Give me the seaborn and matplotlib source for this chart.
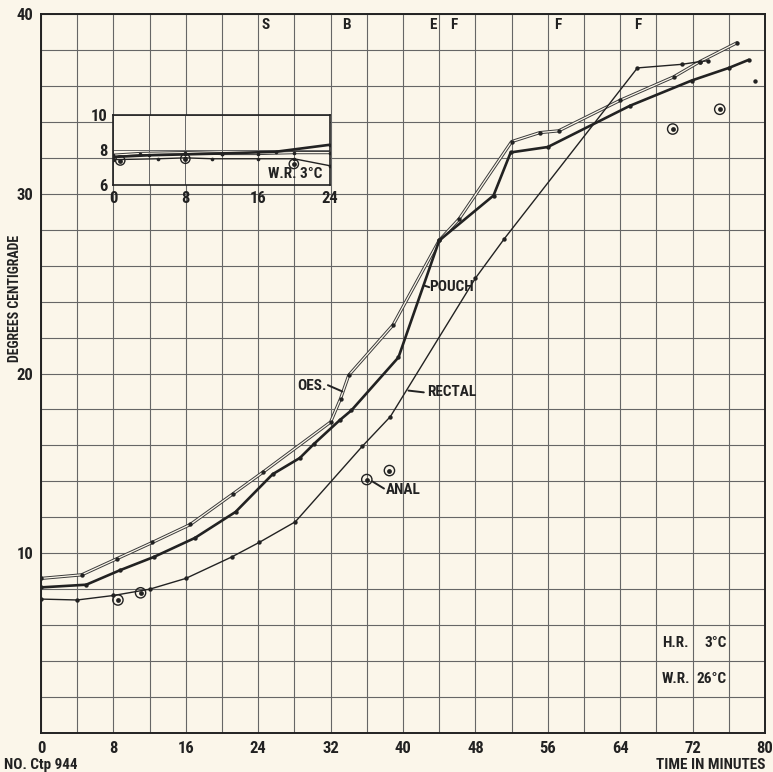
import matplotlib
matplotlib.use("Agg")
import matplotlib.pyplot as plt
import matplotlib.transforms as mtransforms
from matplotlib import font_manager
import seaborn as sns

# ---- data (minutes, degrees C) ----
OES_T = [0, 4.5, 8.4, 12.3, 16.5, 21.2, 24.5, 32.0, 33.1, 34.0, 38.9, 44.0, 46.2, 52.0, 55.1, 57.2, 64.0, 69.9, 72.8, 76.9]
OES_V = [8.6, 8.8, 9.7, 10.6, 11.6, 13.3, 14.5, 17.3, 18.6, 19.9, 22.7, 27.4, 28.6, 32.9, 33.4, 33.5, 35.2, 36.5, 37.35, 38.4]

POUCH_T = [0, 5.0, 8.7, 12.5, 17.0, 21.5, 25.6, 28.6, 30.2, 33.0, 34.3, 39.5, 44.0, 50.0, 51.9, 56.0, 65.1, 71.9, 76.0, 78.2]
POUCH_V = [8.1, 8.25, 9.05, 9.8, 10.85, 12.3, 14.4, 15.3, 16.1, 17.4, 17.95, 20.9, 27.4, 29.9, 32.3, 32.6, 34.9, 36.3, 37.0, 37.45]

RECTAL_T = [0, 4.0, 8.0, 12.0, 16.0, 21.1, 24.1, 28.1, 35.5, 38.6, 48.0, 51.2, 65.9, 70.8, 72.8, 73.7]
RECTAL_V = [7.45, 7.4, 7.65, 8.0, 8.6, 9.8, 10.6, 11.75, 15.95, 17.6, 25.3, 27.5, 37.0, 37.2, 37.35, 37.4]

ANAL_T = [8.5, 11.0, 36.0, 38.5, 69.8, 75.0]
ANAL_V = [7.4, 7.8, 14.1, 14.6, 33.6, 34.7]

EXTRA_T = [78.9]
EXTRA_V = [36.3]

EVENT_T = [24.8, 33.8, 43.3, 45.6, 57.1, 65.9]
EVENT_L = ["S", "B", "E", "F", "F", "F"]

X_TICKS = [0, 8, 16, 24, 32, 40, 48, 56, 64, 72, 80]
Y_TICKS = [10, 20, 30, 40]

# inset (first 24 minutes, water 3 C)
IN_OES_T = [0, 3, 8, 12, 16, 20, 24]
IN_OES_V = [7.7, 7.8, 7.85, 7.8, 7.8, 7.85, 7.85]
IN_POUCH_T = [0, 4, 8, 12, 18, 24]
IN_POUCH_V = [7.6, 7.7, 7.75, 7.8, 7.9, 8.3]
IN_RECTAL_T = [0, 5, 8, 11, 16, 20, 24]
IN_RECTAL_V = [7.45, 7.5, 7.55, 7.5, 7.5, 7.5, 7.1]
IN_ANAL_T = [0.8, 8.0, 20.0]
IN_ANAL_V = [7.4, 7.5, 7.2]
IN_X_TICKS = [0, 8, 16, 24]
IN_Y_TICKS = [6, 8, 10]

BG = "#fbf6ea"
INK = "#222222"
GRID = "#666666"

sns.set_theme(style="white")
available = {f.name for f in font_manager.fontManager.ttflist}
fams = [f for f in ["Roboto Condensed", "Liberation Sans Narrow", "Open Sans Condensed",
                    "Roboto", "DejaVu Sans"] if f in available] or ["DejaVu Sans"]
plt.rcParams["font.family"] = fams
plt.rcParams["font.weight"] = "bold"
plt.rcParams["font.stretch"] = "condensed"

FS = 11

fig = plt.figure(figsize=(7.73, 7.72), dpi=100, facecolor=BG)
ax = fig.add_axes([41 / 773, 39 / 772, 724 / 773, 719 / 772])
ax.set_facecolor(BG)
ax.set_xlim(0, 80)
ax.set_ylim(0, 40)
ax.set_xticks(X_TICKS)
ax.set_xticks(range(0, 81, 4), minor=True)
ax.set_yticks(Y_TICKS)
ax.set_yticks(range(0, 41, 2), minor=True)
ax.grid(which="both", color=GRID, lw=0.8)
ax.set_axisbelow(True)
ax.tick_params(which="major", axis="both", length=4, width=1, color=INK, labelsize=FS + 1, pad=1.5)
ax.tick_params(which="minor", length=0)
for lab in ax.get_xticklabels() + ax.get_yticklabels():
    lab.set_fontweight("bold")
    lab.set_color(INK)
for s in ax.spines.values():
    s.set_color(INK)
    s.set_linewidth(1.4)


def draw(axx, t, v, style, msize=10):
    if style == "double":
        sns.lineplot(x=t, y=v, ax=axx, color="#3a3a3a", lw=2.3, sort=False, estimator=None, zorder=3)
        sns.lineplot(x=t, y=v, ax=axx, color=BG, lw=0.9, sort=False, estimator=None, zorder=3)
    elif style == "thick":
        sns.lineplot(x=t, y=v, ax=axx, color=INK, lw=1.9, sort=False, estimator=None, zorder=4)
    else:
        sns.lineplot(x=t, y=v, ax=axx, color=INK, lw=1.0, sort=False, estimator=None, zorder=3)
    sns.scatterplot(x=t, y=v, ax=axx, color=INK, s=msize, linewidth=0, zorder=5)


def anal(axx, t, v, big=55):
    sns.scatterplot(x=t, y=v, ax=axx, marker="o", s=big, facecolor="none",
                    edgecolor=INK, linewidth=1.0, zorder=6)
    sns.scatterplot(x=t, y=v, ax=axx, color=INK, s=12, linewidth=0, zorder=6)


draw(ax, OES_T, OES_V, "double")
draw(ax, POUCH_T, POUCH_V, "thick")
draw(ax, RECTAL_T, RECTAL_V, "thin")
anal(ax, ANAL_T, ANAL_V)
sns.scatterplot(x=EXTRA_T, y=EXTRA_V, ax=ax, color=INK, s=10, linewidth=0, zorder=5)

lab_kw = dict(fontsize=FS, fontweight="bold", color=INK, zorder=7)
ax.text(31.6, 19.3, "OES.", ha="right", va="center", **lab_kw)
ax.plot([31.7, 33.3], [19.35, 19.0], color=INK, lw=1.4, zorder=7)
ax.text(42.9, 24.8, "POUCH", ha="left", va="center", **lab_kw)
ax.plot([42.3, 42.9], [24.9, 24.8], color=INK, lw=1.4, zorder=7)
ax.text(42.7, 18.95, "RECTAL", ha="left", va="center", **lab_kw)
ax.plot([40.6, 42.3], [19.05, 18.95], color=INK, lw=1.4, zorder=7)
ax.text(38.1, 13.5, "ANAL", ha="left", va="center", **lab_kw)
ax.plot([36.6, 37.9], [14.0, 13.6], color=INK, lw=1.4, zorder=7)

for t, l in zip(EVENT_T, EVENT_L):
    ax.text(t, 39.75, l, ha="center", va="top", **lab_kw)

ax.text(68.6, 5.0, "H.R.", ha="left", va="center", **lab_kw)
ax.text(75.8, 5.0, "3°C", ha="right", va="center", **lab_kw)
ax.text(68.6, 3.0, "W.R.", ha="left", va="center", **lab_kw)
ax.text(75.8, 3.0, "26°C", ha="right", va="center", **lab_kw)

trans = mtransforms.blended_transform_factory(ax.transAxes, ax.transData)
ax.text(-0.036, 24.2, "DEGREES CENTIGRADE", rotation=90, ha="center", va="center",
        transform=trans, fontsize=FS - 1, fontweight="bold", color=INK)

fig.text(4 / 773, 1 - 765 / 772, "NO. Ctp 944", ha="left", va="center",
         fontsize=FS, fontweight="bold", color=INK)
fig.text(765 / 773, 1 - 765 / 772, "TIME IN MINUTES", ha="right", va="center",
         fontsize=FS, fontweight="bold", color=INK)

# ---- inset ----
axin = fig.add_axes([113 / 773, (772 - 185) / 772, 217 / 773, 70 / 772])
axin.set_facecolor(BG)
axin.set_xlim(0, 24)
axin.set_ylim(6, 10)
axin.set_xticks(IN_X_TICKS)
axin.set_xticks([4, 12, 20], minor=True)
axin.set_yticks(IN_Y_TICKS)
axin.grid(which="both", color=GRID, lw=0.7)
axin.set_axisbelow(True)
axin.tick_params(which="major", length=3, width=1, color=INK, labelsize=FS + 1, pad=1)
axin.tick_params(which="minor", length=0)
for lab in axin.get_xticklabels() + axin.get_yticklabels():
    lab.set_fontweight("bold")
    lab.set_color(INK)
for s in axin.spines.values():
    s.set_color(INK)
    s.set_linewidth(1.2)

draw(axin, IN_OES_T, IN_OES_V, "double", msize=7)
draw(axin, IN_POUCH_T, IN_POUCH_V, "thick", msize=7)
draw(axin, IN_RECTAL_T, IN_RECTAL_V, "thin", msize=7)
anal(axin, IN_ANAL_T, IN_ANAL_V, big=45)
axin.text(23.2, 6.25, "W.R. 3°C", ha="right", va="bottom", fontsize=FS,
          fontweight="bold", color=INK, zorder=7)
axin.set_xlabel("")
axin.set_ylabel("")
ax.set_xlabel("")
ax.set_ylabel("")

fig.savefig("out.png", dpi=100, facecolor=BG)
